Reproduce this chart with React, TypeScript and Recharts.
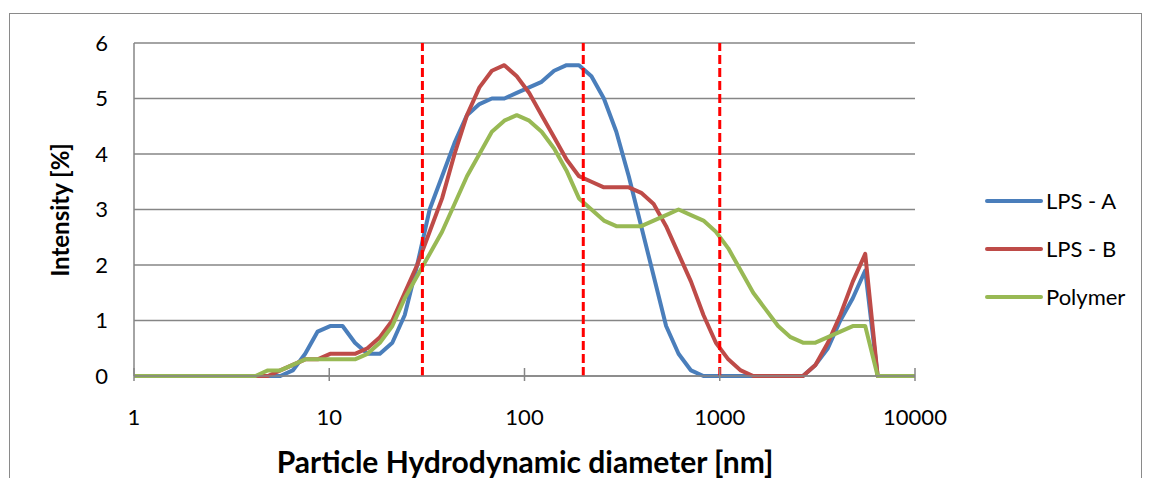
import React from "react";
import {
  LineChart,
  Line,
  XAxis,
  YAxis,
  CartesianGrid,
  ReferenceLine,
  Legend,
} from "recharts";

// particle size bins (nm)
const sizes = [
  0.9649, 1.117, 1.294, 1.499, 1.736, 2.01, 2.328, 2.696, 3.122, 3.615, 4.187,
  4.849, 5.615, 6.503, 7.531, 8.721, 10.1, 11.7, 13.54, 15.69, 18.17, 21.04,
  24.36, 28.21, 32.67, 37.84, 43.82, 50.75, 58.77, 68.06, 78.82, 91.28, 105.7,
  122.4, 141.8, 164.2, 190.1, 220.2, 255.0, 295.3, 342.0, 396.1, 458.7, 531.2,
  615.1, 712.4, 825.0, 955.4, 1106, 1281, 1484, 1718, 1990, 2305, 2669, 3091,
  3580, 4145, 4801, 5560, 6439, 7456, 8635, 10000,
];

const lpsA = [
  0, 0, 0, 0, 0, 0, 0, 0, 0, 0, 0, 0, 0, 0.1, 0.4, 0.8, 0.9, 0.9, 0.6, 0.4, 0.4,
  0.6, 1.1, 2.0, 3.0, 3.6, 4.2, 4.7, 4.9, 5.0, 5.0, 5.1, 5.2, 5.3, 5.5, 5.6,
  5.6, 5.4, 5.0, 4.4, 3.6, 2.7, 1.8, 0.9, 0.4, 0.1, 0, 0, 0, 0, 0, 0, 0, 0, 0,
  0.2, 0.5, 1.0, 1.4, 1.9, 0, 0, 0, 0,
];

const lpsB = [
  0, 0, 0, 0, 0, 0, 0, 0, 0, 0, 0, 0, 0.1, 0.2, 0.3, 0.3, 0.4, 0.4, 0.4, 0.5,
  0.7, 1.0, 1.5, 2.0, 2.6, 3.2, 4.0, 4.7, 5.2, 5.5, 5.6, 5.4, 5.1, 4.7, 4.3,
  3.9, 3.6, 3.5, 3.4, 3.4, 3.4, 3.3, 3.1, 2.7, 2.2, 1.7, 1.1, 0.6, 0.3, 0.1, 0,
  0, 0, 0, 0, 0.2, 0.6, 1.1, 1.7, 2.2, 0, 0, 0, 0,
];

const polymer = [
  0, 0, 0, 0, 0, 0, 0, 0, 0, 0, 0, 0.1, 0.1, 0.2, 0.3, 0.3, 0.3, 0.3, 0.3, 0.4,
  0.6, 0.9, 1.4, 1.8, 2.2, 2.6, 3.1, 3.6, 4.0, 4.4, 4.6, 4.7, 4.6, 4.4, 4.1,
  3.7, 3.2, 3.0, 2.8, 2.7, 2.7, 2.7, 2.8, 2.9, 3.0, 2.9, 2.8, 2.6, 2.3, 1.9,
  1.5, 1.2, 0.9, 0.7, 0.6, 0.6, 0.7, 0.8, 0.9, 0.9, 0, 0, 0, 0,
];

const xTicks = [1, 10, 100, 1000, 10000];
const yTicks = [0, 1, 2, 3, 4, 5, 6];
const markers = [30, 200, 1000];

const seriesNames = ["LPS - A", "LPS - B", "Polymer"];
const seriesColors = ["#4A7EBB", "#BE4B48", "#98B954"];

const data = sizes.map((d, i) => ({
  d,
  a: lpsA[i],
  b: lpsB[i],
  p: polymer[i],
}));

const FONT = "Lato, 'Open Sans', sans-serif";
const GRID = "#868686";
const X_TICK_GAP = 33; // tickSize + tickMargin

// excel style "cross" tick marks on the x axis
const XTick = (props: any) => {
  const { x, y, payload } = props;
  const axisY = y - X_TICK_GAP;
  return (
    <g>
      <line
        x1={x}
        x2={x}
        y1={axisY - 8}
        y2={axisY + 5}
        stroke={GRID}
        strokeWidth={1.5}
      />
      <text
        x={x}
        y={y}
        dy="0.71em"
        textAnchor="middle"
        fill="#000"
        fontSize={22}
        fontFamily={FONT}
      >
        {payload.value}
      </text>
    </g>
  );
};

const renderLegend = () => (
  <div>
    {seriesNames.map((n, i) => (
      <div
        key={n}
        style={{ display: "flex", alignItems: "center", height: 48 }}
      >
        <svg width={60} height={8}>
          <line
            x1={3}
            y1={4}
            x2={57}
            y2={4}
            stroke={seriesColors[i]}
            strokeWidth={4}
            strokeLinecap="round"
          />
        </svg>
        <span
          style={{
            fontSize: 22,
            fontFamily: FONT,
            color: "#000",
            marginLeft: 2,
            lineHeight: 1,
          }}
        >
          {n}
        </span>
      </div>
    ))}
  </div>
);

export default function App() {
  return (
    <div
      style={{
        position: "absolute",
        left: 0,
        top: 0,
        width: 1149,
        height: 478,
        background: "#fff",
        overflow: "hidden",
      }}
    >
      <div
        style={{
          position: "absolute",
          left: 9,
          top: 13,
          width: 1131,
          height: 520,
          border: "1.5px solid #8a8a8a",
        }}
      />
      <div style={{ position: "absolute", left: 0, top: 0 }}>
        <LineChart
          width={1149}
          height={478}
          data={data}
          margin={{ top: 43, right: 234, bottom: 62, left: 74 }}
        >
          <CartesianGrid
            vertical={false}
            stroke={GRID}
            strokeWidth={1.5}
          />
          <XAxis
            dataKey="d"
            type="number"
            scale="log"
            domain={[1, 10000]}
            allowDataOverflow
            ticks={xTicks}
            height={40}
            axisLine={{ stroke: GRID, strokeWidth: 1.5 }}
            tickLine={false}
            tickSize={6}
            tickMargin={27}
            tick={<XTick />}
          />
          <YAxis
            type="number"
            domain={[0, 6]}
            ticks={yTicks}
            width={60}
            axisLine={{ stroke: GRID, strokeWidth: 1.5 }}
            tickLine={false}
            tickSize={0}
            tickMargin={26}
            tick={{ fill: "#000", fontSize: 22, fontFamily: FONT }}
          />
          <Line
            dataKey="a"
            name={seriesNames[0]}
            stroke={seriesColors[0]}
            strokeWidth={4}
            strokeLinejoin="round"
            dot={false}
            isAnimationActive={false}
          />
          <Line
            dataKey="b"
            name={seriesNames[1]}
            stroke={seriesColors[1]}
            strokeWidth={4}
            strokeLinejoin="round"
            dot={false}
            isAnimationActive={false}
          />
          <Line
            dataKey="p"
            name={seriesNames[2]}
            stroke={seriesColors[2]}
            strokeWidth={4}
            strokeLinejoin="round"
            dot={false}
            isAnimationActive={false}
          />
          {markers.map((m) => (
            <ReferenceLine
              key={m}
              x={m}
              stroke="#FF0000"
              strokeWidth={3}
              strokeDasharray="9 4"
            />
          ))}
          <Legend
            layout="vertical"
            align="center"
            verticalAlign="middle"
            content={renderLegend}
            wrapperStyle={{ left: 984, top: 177, width: 160 }}
          />
        </LineChart>
      </div>
      <div
        style={{
          position: "absolute",
          left: 525,
          top: 446,
          transform: "translateX(-50%)",
          whiteSpace: "nowrap",
          fontFamily: FONT,
          fontWeight: 700,
          fontSize: 30,
          lineHeight: 1,
        }}
      >
        Particle Hydrodynamic diameter [nm]
      </div>
      <div
        style={{
          position: "absolute",
          left: 60,
          top: 210,
          transform: "translate(-50%, -50%) rotate(-90deg)",
          whiteSpace: "nowrap",
          fontFamily: FONT,
          fontWeight: 700,
          fontSize: 24,
          lineHeight: 1,
        }}
      >
        Intensity [%]
      </div>
    </div>
  );
}
